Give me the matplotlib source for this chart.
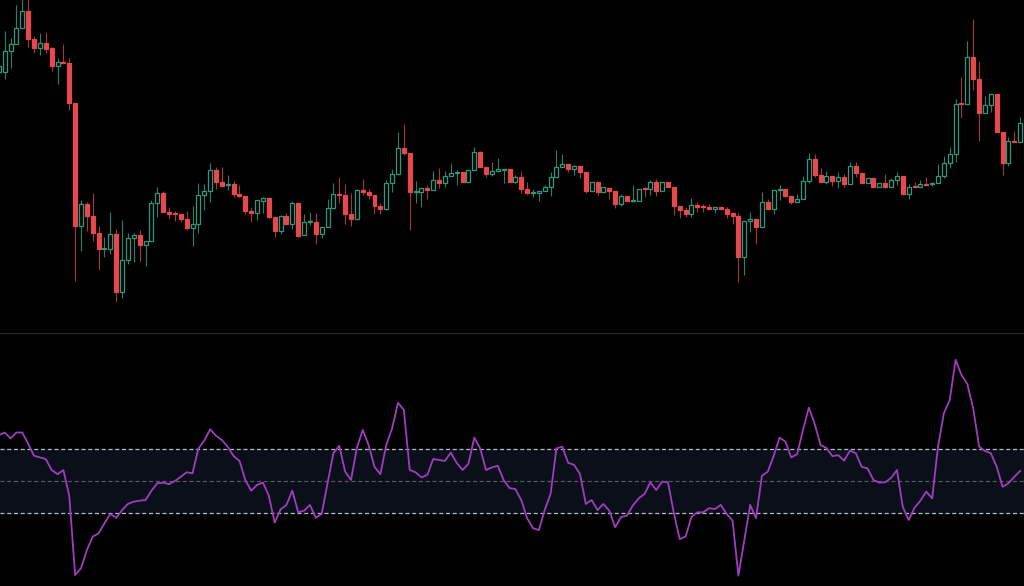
import matplotlib
matplotlib.use("Agg")
import matplotlib.pyplot as plt
from matplotlib.lines import Line2D

# candle prices (oldest -> newest)
opens = [
    328, 328.3, 349.3, 356, 372, 389.3, 360.7, 352.3, 356.7, 351.7,
    334, 338.3, 336.7, 296.7, 174.3, 196, 184.3, 167.3, 150.7, 151.3,
    165.7, 108.3, 140, 162.3, 165, 155, 159.3, 197.3, 206.7, 188,
    187.3, 185.7, 181, 171.7, 176, 204.7, 209, 230, 218, 214.7,
    216.3, 205.7, 204.3, 189, 187.3, 199.3, 201.7, 183, 169, 184,
    176, 197.3, 165, 177.7, 178.3, 165.7, 173.3, 191.7, 206.3, 205.3,
    186, 181.3, 210.3, 207.7, 204.7, 194, 191, 216.7, 225.7, 252.3,
    246.7, 208.3, 208.3, 212.3, 210.3, 220, 217.3, 224.3, 226.7, 228,
    217.7, 230, 247.7, 233.3, 226, 229.3, 230, 230.7, 218.3, 223.3,
    211, 206.7, 206.7, 209, 213.3, 223.3, 233.3, 235.7, 230.7, 234,
    227.7, 209.3, 217.7, 207.7, 212.3, 209, 195.7, 204.3, 199, 199,
    211.7, 210.7, 217.7, 209, 217.7, 212.7, 194.3, 190, 186, 195,
    194.3, 193.3, 191.3, 193.3, 190.7, 186.7, 184.3, 143.3, 179.3, 181,
    173.3, 197.7, 190.7, 210, 211.3, 204, 197.7, 200.7, 219, 240.7,
    225, 217.7, 224, 219, 222.7, 216, 234.3, 226.7, 217.3, 222.3,
    212.7, 217.3, 213.3, 220, 224.3, 205.7, 214, 212.7, 216.3, 215.7,
    216.7, 224.3, 236.7, 245.7, 296.7, 296, 343.3, 320.7, 287.3, 295,
    305.7, 268.3, 237.3, 259, 258,
]
highs = [
    340, 369.3, 361.7, 395, 402, 403, 364, 366.7, 368, 353.3,
    341.7, 356, 341.7, 296.7, 200, 198.3, 207.3, 174.3, 162.7, 188,
    171.3, 180, 167.3, 167.3, 170, 159.3, 200, 212.7, 209.3, 192.7,
    189, 185.7, 189, 194, 216.7, 215.7, 236.7, 232.7, 232.7, 225,
    219, 215, 204.3, 193.3, 200, 202.7, 202.7, 183, 185, 187.3,
    199, 198.3, 185.7, 188.3, 186.7, 173.3, 201, 216.7, 222.7, 215.7,
    207.3, 210.7, 220.7, 210.7, 204.7, 196.7, 220, 230.7, 268.3, 276,
    246.7, 219, 211.7, 214.7, 229.3, 231.7, 229, 236.7, 230, 228,
    230, 253.3, 249, 233.3, 237.7, 241.7, 230.7, 230.7, 225, 229,
    217.7, 210.7, 209, 215, 227.7, 250, 246, 235.7, 235, 234,
    227.7, 217.7, 217.7, 212.7, 212.3, 209, 205.7, 204.3, 215, 211,
    213.3, 220, 220.7, 217.7, 217.7, 212.7, 194.3, 192.7, 201.7, 198.3,
    196, 195.7, 193.3, 193.3, 192.7, 187.7, 186.7, 179.3, 188.3, 181,
    208.3, 201, 210, 215, 211.3, 204, 205.7, 224, 246.7, 246,
    231.7, 229.3, 224, 228.3, 226, 238.3, 237.7, 226.7, 222.3, 222.3,
    217.3, 225.7, 221.7, 228.3, 224.3, 215.7, 218.3, 220, 222.7, 218.3,
    235.7, 244, 253.3, 300.7, 322.7, 359.3, 380.7, 339, 304.3, 305.7,
    305.7, 268.3, 263.3, 269, 282.7,
]
lows = [
    324, 321, 331.7, 356, 372, 353.3, 346.7, 345, 346.7, 329.3,
    316, 336.7, 290, 119, 149.3, 169.3, 159.3, 130, 143.3, 146,
    98.3, 101.7, 136, 138.3, 138.3, 134, 159.3, 183.3, 188, 180.7,
    179.3, 177.7, 170, 154.3, 166.7, 190, 198.3, 210.7, 214, 210,
    203.3, 203.3, 185.7, 177.7, 179.7, 186.7, 182.3, 163.3, 165.7, 176,
    171, 163.3, 165, 175, 156, 161.7, 173.3, 191.7, 197.3, 176,
    174, 181.3, 205, 201.3, 186, 186, 190, 207.7, 225.7, 245,
    170, 197.3, 193.3, 201, 210.3, 212.3, 213.3, 224.3, 215, 217.7,
    217.7, 230, 233.3, 223.3, 224.3, 229.3, 216.7, 218.3, 216.7, 206.7,
    205.7, 203.3, 199, 209, 204.3, 223.3, 233.3, 227.7, 225, 221.7,
    206.7, 209.3, 205, 207.7, 201, 192.3, 194.3, 199, 198.3, 199,
    203.3, 205, 204.3, 209, 213.3, 185, 181.7, 183.3, 183.3, 188.3,
    188.3, 191, 187.3, 190.7, 181.7, 176, 118.3, 125, 168.3, 156,
    173.3, 190.7, 185.7, 200, 202.7, 195.7, 197.7, 200.7, 216.7, 222.7,
    217.7, 215.7, 214, 212.3, 213.3, 216, 223.3, 217.3, 217.3, 212.7,
    212.7, 211.7, 213.3, 215, 205.7, 200.7, 212.7, 212.7, 215, 214,
    216.7, 221.7, 231.7, 238.3, 281.7, 296, 310, 259.3, 287.3, 288.3,
    268.3, 225, 234, 258, 258,
]
closes = [
    334, 349.3, 355.7, 371.7, 389.3, 360.7, 352.3, 356.7, 351, 334,
    338, 336.7, 296.7, 174.3, 196, 184.3, 167.3, 150.7, 152, 165.7,
    108.3, 140, 162.3, 165, 155, 159.3, 197.3, 206.7, 188, 186.3,
    186, 181, 171.7, 176, 204.7, 209, 230, 218, 214, 216.3,
    205.7, 204.3, 189, 187.3, 200, 201.7, 183, 169, 184, 176,
    196.7, 164.3, 178.3, 179, 165.7, 173.3, 191.7, 206, 205.3, 186,
    181.3, 210, 207.7, 204.7, 194, 191, 216.7, 225.7, 252.3, 246.7,
    208.3, 209.3, 211.7, 210.3, 220, 217.3, 224.3, 226.7, 228, 217.7,
    230, 247.7, 233.3, 226, 229.3, 230.7, 230.7, 218.3, 223.3, 211,
    206.7, 207.7, 209, 213.3, 223.3, 233.3, 235.7, 230.7, 234, 227.7,
    209.3, 217.7, 207.7, 212.7, 209, 195.7, 204.3, 199, 200, 211,
    210.7, 217.7, 209, 217.7, 213.3, 194.3, 190, 186, 195, 193.3,
    193, 191, 193.3, 190.7, 186, 184.3, 143.3, 179.3, 181, 173.3,
    197.7, 190.7, 210, 211.3, 204, 197.7, 200.7, 219, 240.7, 225,
    217.7, 224, 219, 222.7, 216, 234.3, 226.7, 217.3, 222.3, 212.7,
    217.3, 213.3, 220, 224.3, 205.7, 213.3, 212.7, 215.7, 215, 216.7,
    224.3, 236.7, 245.7, 296, 295.7, 343.3, 320.7, 287.3, 295, 305.7,
    268.3, 237.3, 259, 258, 277.3,
]

# oscillator (RSI-style) values, one per candle
rsi = [
    64.2, 65.0, 63.2, 65.0, 65.0, 61.5, 57.8, 57.3, 56.8, 53.4,
    52.1, 53.4, 45.4, 20.9, 23.0, 28.6, 32.8, 33.8, 36.9, 39.8,
    38.6, 41.0, 42.9, 43.6, 43.9, 44.1, 47.0, 49.3, 49.5, 49.0,
    50.0, 51.3, 52.7, 52.4, 60.1, 62.5, 66.0, 64.0, 62.7, 60.6,
    57.7, 56.2, 50.3, 47.0, 48.8, 49.5, 45.4, 37.1, 41.2, 42.6,
    47.0, 40.3, 40.8, 42.6, 38.6, 39.8, 49.3, 58.6, 60.9, 52.9,
    50.3, 60.3, 65.8, 61.1, 54.4, 52.1, 61.1, 66.3, 74.2, 72.0,
    53.4, 52.7, 51.1, 51.9, 56.8, 56.5, 56.2, 58.8, 55.6, 53.4,
    55.3, 63.4, 60.1, 53.4, 54.2, 54.7, 50.3, 47.8, 47.5, 44.1,
    38.5, 35.4, 34.8, 41.0, 46.0, 60.1, 60.6, 55.6, 55.0, 52.2,
    42.9, 44.1, 41.0, 42.9, 40.8, 35.7, 38.8, 39.3, 42.4, 44.6,
    46.0, 49.6, 47.2, 49.8, 49.6, 40.0, 32.0, 32.8, 38.9, 40.3,
    40.3, 41.6, 41.3, 42.6, 39.8, 37.7, 20.7, 31.7, 42.6, 38.5,
    51.6, 52.9, 57.7, 63.4, 62.2, 57.3, 58.3, 65.8, 72.7, 67.6,
    61.1, 60.2, 57.7, 58.0, 56.3, 59.4, 58.6, 54.4, 53.9, 50.3,
    49.5, 49.6, 50.9, 53.4, 42.0, 37.9, 41.7, 43.9, 46.7, 44.6,
    60.6, 71.0, 75.1, 87.5, 82.8, 80.0, 72.5, 60.6, 59.3, 58.6,
    54.4, 48.2, 49.3, 51.3, 53.1,
]
band_upper, band_mid, band_lower = 60, 50, 40

UP = "#2b9a80"
UP_WICK = "#24836d"
DOWN = "#e5484d"
DOWN_WICK = "#a8363b"
BG = "#000000"

fig = plt.figure(figsize=(10.24, 5.86), dpi=100, facecolor=BG)
split = 253 / 586
ax = fig.add_axes([0, split, 1, 1 - split], facecolor=BG)
ax2 = fig.add_axes([0, 0, 1, split], facecolor=BG)

x = list(range(len(opens)))
for i in x:
    o, h, l, c = opens[i], highs[i], lows[i], closes[i]
    up = c >= o
    ax.vlines(i, l, h, color=UP_WICK if up else DOWN_WICK, lw=0.8, zorder=1)
    body = max(abs(c - o), 1.0)
    ax.bar(i, body, bottom=min(o, c), width=0.68,
           color=BG if up else DOWN, edgecolor=UP if up else DOWN,
           linewidth=0.9, zorder=2)

ax.set_xlim(0.2, 174.65)
ax.set_ylim(67, 400)

ax2.axhspan(band_lower, band_upper, color="#0a0f19", zorder=0)
ax2.axhline(band_upper, color="#b8bcc4", lw=0.9, dashes=(3.2, 2.2), zorder=1)
ax2.axhline(band_lower, color="#b8bcc4", lw=0.9, dashes=(3.2, 2.2), zorder=1)
ax2.axhline(band_mid, color="#5e5468", lw=0.9, dashes=(3.2, 2.2), zorder=1)
ax2.plot(x, rsi, color="#a03dbf", lw=1.3, zorder=3)
ax2.set_xlim(0.2, 174.65)
ax2.set_ylim(17.5, 95.8)

for a in (ax, ax2):
    a.set_xticks([])
    a.set_yticks([])
    for s in a.spines.values():
        s.set_visible(False)

fig.add_artist(Line2D([0, 1], [split, split], color="#2a2a2e", lw=0.8))

fig.savefig("out.png", dpi=100, facecolor=BG)
